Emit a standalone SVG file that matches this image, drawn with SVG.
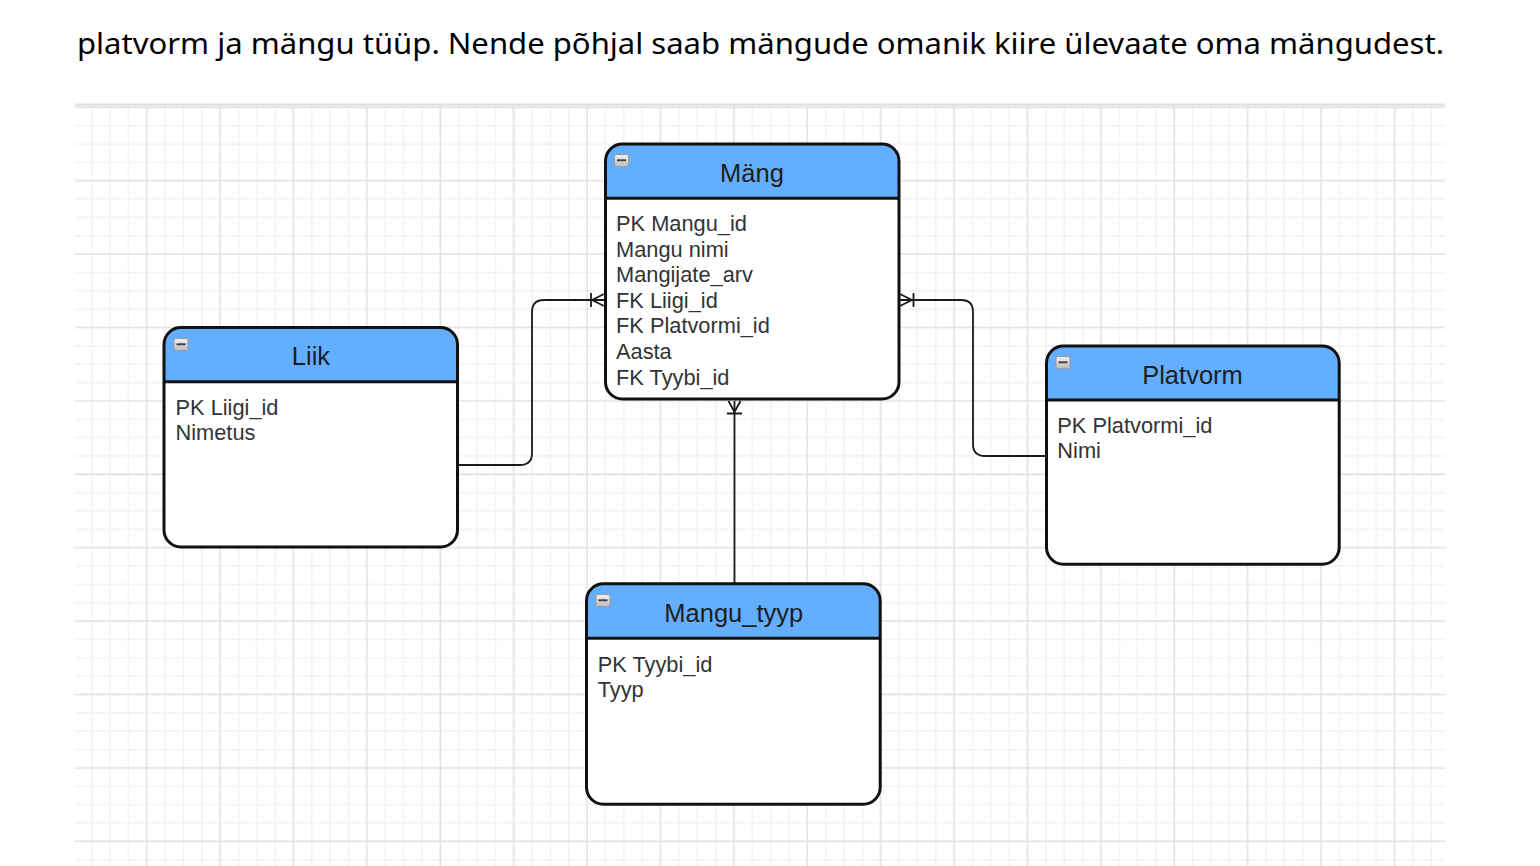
<svg xmlns="http://www.w3.org/2000/svg" width="1540" height="866" viewBox="0 0 1540 866">
  <defs>
    <style>
      .title{font-family:"Liberation Sans",Arial,sans-serif;font-size:25.5px;fill:#1e1e1e;text-anchor:middle}
      .body{font-family:"Liberation Sans",Arial,sans-serif;font-size:21.8px;fill:#333333}
      .box{fill:none;stroke:#111111;stroke-width:3}
      .bg{fill:#ffffff}
      .hdr{fill:#63aefe}
      .div{stroke:#111111;stroke-width:3}
      .conn{fill:none;stroke:#1a1a1a;stroke-width:1.8}
      .para{font-family:"Noto Sans","Open Sans",sans-serif;font-size:29px;fill:#000000}
    </style>
    <linearGradient id="ig" x1="0" y1="0" x2="0" y2="1">
      <stop offset="0" stop-color="#f2f2f2"/>
      <stop offset="1" stop-color="#bdbdbd"/>
    </linearGradient>
    <g id="minus">
      <rect x="0.5" y="0.5" width="14" height="12" rx="2" fill="url(#ig)" stroke="#9a9a9a" stroke-width="1"/>
      <line x1="3" y1="6.3" x2="12" y2="6.3" stroke="#444444" stroke-width="2"/>
    </g>
    <pattern id="grid" patternUnits="userSpaceOnUse" x="100.825" y="134.825" width="73.4" height="73.4">
      <rect x="8.4" y="0" width="1.5" height="73.4" fill="#f2f2f2"/>
      <rect x="26.8" y="0" width="1.5" height="73.4" fill="#f2f2f2"/>
      <rect x="63.5" y="0" width="1.5" height="73.4" fill="#f2f2f2"/>
      <rect x="0" y="8.4" width="73.4" height="1.5" fill="#f2f2f2"/>
      <rect x="0" y="26.8" width="73.4" height="1.5" fill="#f2f2f2"/>
      <rect x="0" y="63.5" width="73.4" height="1.5" fill="#f2f2f2"/>
      <rect x="45.1" y="0" width="1.6" height="73.4" fill="#e1e1e1"/>
      <rect x="0" y="45.1" width="73.4" height="1.6" fill="#e1e1e1"/>
    </pattern>
  </defs>

  <rect x="0" y="0" width="1540" height="866" fill="#ffffff"/>
  <text class="para" x="77" y="54" textLength="1367" lengthAdjust="spacingAndGlyphs">platvorm ja mängu tüüp. Nende põhjal saab mängude omanik kiire ülevaate oma mängudest.</text>

  <rect x="75" y="103.5" width="1370" height="3" fill="#e2e2e2"/>
  <rect x="75" y="107" width="1370" height="759" fill="url(#grid)"/>

  <g id="connectors">
    <path class="conn" d="M 459 465 H 520 Q 532 465 532 453 V 312 Q 532 300 544 300 H 604"/>
    <path class="conn" d="M 604 294 L 592 300 L 604 306 M 591 293 V 307"/>
    <path class="conn" d="M 900 300 H 961 Q 973 300 973 312 V 444 Q 973 456 985 456 H 1045"/>
    <path class="conn" d="M 900 294 L 912 300 L 900 306 M 913.5 293 V 307"/>
    <path class="conn" d="M 734.5 583 V 401"/>
    <path class="conn" d="M 728.5 401 L 734.5 412 L 740.5 401 M 727 413.5 H 742"/>
  </g>

  <g id="node-mang">
    <rect class="bg" x="605.5" y="144" width="293.5" height="255" rx="17"/>
    <path class="hdr" d="M 605.5 198.3 V 161 Q 605.5 144 622.5 144 H 882 Q 899 144 899 161 V 198.3 Z"/>
    <line class="div" x1="605.5" y1="198.3" x2="899" y2="198.3"/>
    <rect class="box" x="605.5" y="144" width="293.5" height="255" rx="17"/>
    <use href="#minus" x="614" y="154"/>
    <text class="title" x="752" y="181.5">Mäng</text>
    <text class="body" x="616" y="231">PK Mangu_id</text>
    <text class="body" x="616" y="256.6">Mangu nimi</text>
    <text class="body" x="616" y="282.2">Mangijate_arv</text>
    <text class="body" x="616" y="307.8">FK Liigi_id</text>
    <text class="body" x="616" y="333.4">FK Platvormi_id</text>
    <text class="body" x="616" y="359">Aasta</text>
    <text class="body" x="616" y="384.6">FK Tyybi_id</text>
  </g>

  <g id="node-liik">
    <rect class="bg" x="164" y="327.5" width="293.5" height="219.5" rx="17"/>
    <path class="hdr" d="M 164 381.7 V 344.5 Q 164 327.5 181 327.5 H 440.5 Q 457.5 327.5 457.5 344.5 V 381.7 Z"/>
    <line class="div" x1="164" y1="381.7" x2="457.5" y2="381.7"/>
    <rect class="box" x="164" y="327.5" width="293.5" height="219.5" rx="17"/>
    <use href="#minus" x="173.5" y="338"/>
    <text class="title" x="311" y="365">Liik</text>
    <text class="body" x="175.5" y="415">PK Liigi_id</text>
    <text class="body" x="175.5" y="440">Nimetus</text>
  </g>

  <g id="node-platvorm">
    <rect class="bg" x="1046.5" y="346" width="292.7" height="218.2" rx="17"/>
    <path class="hdr" d="M 1046.5 400 V 363 Q 1046.5 346 1063.5 346 H 1322.2 Q 1339.2 346 1339.2 363 V 400 Z"/>
    <line class="div" x1="1046.5" y1="400" x2="1339.2" y2="400"/>
    <rect class="box" x="1046.5" y="346" width="292.7" height="218.2" rx="17"/>
    <use href="#minus" x="1055.5" y="356"/>
    <text class="title" x="1192.5" y="384">Platvorm</text>
    <text class="body" x="1057.3" y="432.7">PK Platvormi_id</text>
    <text class="body" x="1057.3" y="458.3">Nimi</text>
  </g>

  <g id="node-mangu-tyyp">
    <rect class="bg" x="586.5" y="583.8" width="293.7" height="220.4" rx="17"/>
    <path class="hdr" d="M 586.5 638.3 V 600.8 Q 586.5 583.8 603.5 583.8 H 863.2 Q 880.2 583.8 880.2 600.8 V 638.3 Z"/>
    <line class="div" x1="586.5" y1="638.3" x2="880.2" y2="638.3"/>
    <rect class="box" x="586.5" y="583.8" width="293.7" height="220.4" rx="17"/>
    <use href="#minus" x="595.5" y="594"/>
    <text class="title" x="733.8" y="621.5">Mangu_tyyp</text>
    <text class="body" x="597.7" y="671.7">PK Tyybi_id</text>
    <text class="body" x="597.7" y="696.7">Tyyp</text>
  </g>
</svg>
